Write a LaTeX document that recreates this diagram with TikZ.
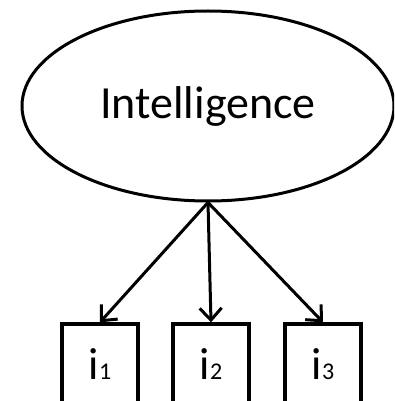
\documentclass[tikz,border=0pt]{standalone}
\usepackage{fontspec}
\setmainfont{Carlito}
\usetikzlibrary{shapes.geometric}
\usetikzlibrary{arrows.meta}

\begin{document}
\begin{tikzpicture}[x=1pt,y=-1pt,
  latent/.style={draw,ellipse,line width=3pt,minimum width=372pt,minimum height=190pt,inner sep=0pt},
  item/.style={draw,rectangle,line width=3.4pt,minimum width=76pt,minimum height=80pt,inner sep=0pt},
  load/.style={line width=3pt,-{Straight Barb[length=12pt,width=22pt,line width=3pt]}}]
 \useasboundingbox (0,0) rectangle (394,401);
 \clip (0,0) rectangle (394,401);
  \node[latent] (intel) at (208,106) {\fontsize{46}{46}\selectfont Intelligence};
  % indicators
  \node[item] (i1) at (100,364) {\fontsize{45}{45}\selectfont i{\fontsize{24}{24}\selectfont 1}};
  \node[item] (i2) at (211,364) {\fontsize{45}{45}\selectfont i{\fontsize{24}{24}\selectfont 2}};
  \node[item] (i3) at (323,364) {\fontsize{45}{45}\selectfont i{\fontsize{24}{24}\selectfont 3}};
 \draw[load] (intel.south) -- (i1.north);
 \draw[load] (intel.south) -- (i2.north);
 \draw[load] (intel.south) -- (i3.north);
\end{tikzpicture}
\end{document}
